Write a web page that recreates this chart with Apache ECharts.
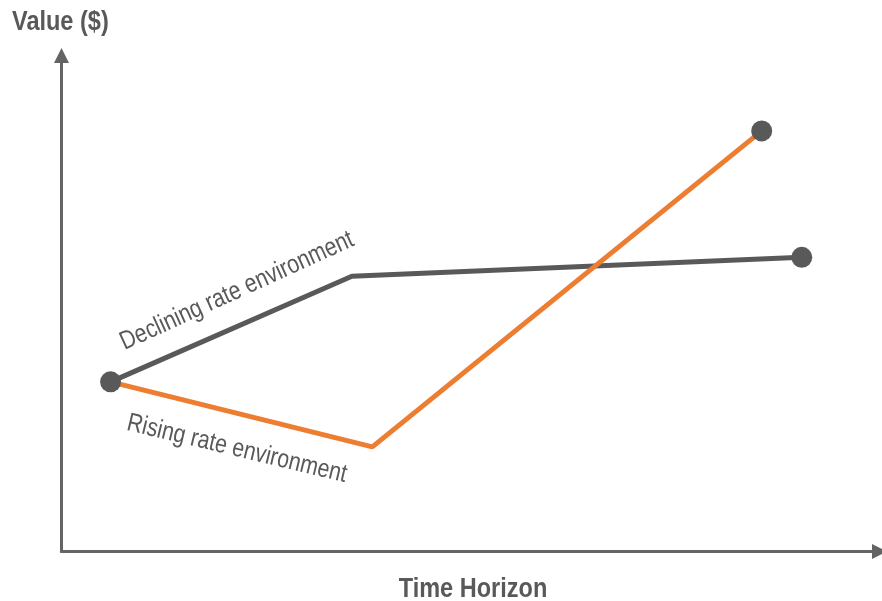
<!DOCTYPE html>
<html>
<head>
<meta charset="utf-8">
<script src="https://cdn.jsdelivr.net/npm/echarts@6/dist/echarts.min.js"></script>
<style>
  html, body { margin: 0; padding: 0; background: #ffffff; }
  #chart { width: 882px; height: 601px; }
</style>
</head>
<body>
<div id="chart"></div>
<script>
// Scenario paths: time horizon (0-100) vs. value (0-100), arbitrary units
const decliningTime  = [6.0, 35.5, 90.5];
const decliningValue = [34.2, 55.5, 59.3];
const risingTime     = [6.0, 38.0, 85.6];
const risingValue    = [34.2, 21.1, 84.8];

const seriesNames = ['Declining rate environment', 'Rising rate environment'];
const axisTitles  = { x: 'Time Horizon', y: 'Value ($)' };

// No condensed face is installed, so regular text is squeezed horizontally
const FONT = '"Liberation Sans", Arial, sans-serif';
const NARROW = 0.82;
const GREY = '#595959';
const ORANGE = '#ED7D31';
const AXIS = '#646464';

const pair = (xs, ys) => xs.map((x, i) => [x, ys[i]]);
const declining = pair(decliningTime, decliningValue);
const rising = pair(risingTime, risingValue);
// start point plus the two end points carry the round markers
const markers = [declining[0], declining[declining.length - 1], rising[rising.length - 1]];

const chart = echarts.init(document.getElementById('chart'), null, { renderer: 'canvas' });

const hiddenAxisParts = {
  axisTick: { show: false },
  axisLabel: { show: false },
  splitLine: { show: false }
};
const arrowLine = {
  show: true, onZero: false,
  symbol: ['none', 'triangle'], symbolSize: [15, 15],
  lineStyle: { color: AXIS, width: 3 }
};

chart.setOption({
  backgroundColor: '#ffffff',
  animation: false,
  grid: { left: 61.5, right: 2.5, top: 55.5, bottom: 49.5 },
  xAxis: Object.assign({ type: 'value', min: 0, max: 100, axisLine: arrowLine }, hiddenAxisParts),
  yAxis: Object.assign({ type: 'value', min: 0, max: 100, axisLine: arrowLine }, hiddenAxisParts),
  series: [
    {
      name: seriesNames[0], type: 'line', data: declining,
      showSymbol: false, lineStyle: { color: GREY, width: 5 }, z: 2
    },
    {
      name: seriesNames[1], type: 'line', data: rising,
      showSymbol: false, lineStyle: { color: ORANGE, width: 5 }, z: 3
    },
    {
      type: 'scatter', data: markers, symbolSize: 21,
      itemStyle: { color: GREY, opacity: 1 }, z: 5
    }
  ],
  graphic: [
    {
      type: 'text', x: 12, y: 22, scaleX: 0.84,
      style: { text: axisTitles.y, font: 'bold 28px ' + FONT, fill: GREY,
               align: 'left', verticalAlign: 'middle' }
    },
    {
      type: 'text', x: 473, y: 589, scaleX: 0.84,
      style: { text: axisTitles.x, font: 'bold 28px ' + FONT, fill: GREY,
               align: 'center', verticalAlign: 'middle' }
    },
    {
      type: 'text', x: 237, y: 291, rotation: 24.5 * Math.PI / 180, scaleX: NARROW,
      style: { text: seriesNames[0], font: '26px ' + FONT, fill: GREY,
               align: 'center', verticalAlign: 'middle' }
    },
    {
      type: 'text', x: 237, y: 449, rotation: -13.5 * Math.PI / 180, scaleX: NARROW,
      style: { text: seriesNames[1], font: '26px ' + FONT, fill: GREY,
               align: 'center', verticalAlign: 'middle' }
    }
  ]
});
</script>
</body>
</html>
